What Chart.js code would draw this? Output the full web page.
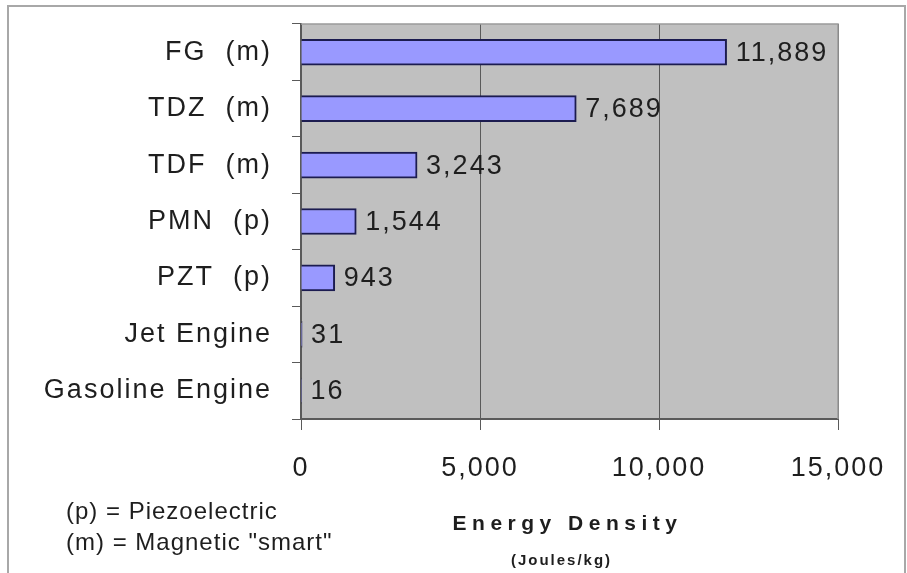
<!DOCTYPE html>
<html>
<head>
<meta charset="utf-8">
<script src="https://cdn.jsdelivr.net/npm/chart.js@4.4.1/dist/chart.umd.min.js"></script>
<style>
  body { margin: 0; background: #fff; }
  #chart { display: block; }
</style>
</head>
<body>
<canvas id="chart" width="907" height="573"></canvas>
<script>
var categories = ['FG  (m)', 'TDZ  (m)', 'TDF  (m)', 'PMN  (p)', 'PZT  (p)', 'Jet Engine', 'Gasoline Engine'];
var energyDensity = [11889, 7689, 3243, 1544, 943, 31, 16];
var xTicks = [0, 5000, 10000, 15000];
var notes = ['(p) = Piezoelectric', '(m) = Magnetic "smart"'];
var axisTitle = 'Energy Density';
var axisUnit = '(Joules/kg)';

var FONT = '"Liberation Sans", Arial, sans-serif';

function fmt(v) {
    return v.toLocaleString('en-US');
}

var decor = {
    id: 'decor',
    beforeDraw: function(chart) {
        var ctx = chart.ctx, a = chart.chartArea;
        ctx.save();
        ctx.fillStyle = '#ffffff';
        ctx.fillRect(0, 0, chart.width, chart.height);
        // outer frame
        ctx.strokeStyle = '#a8a8a8';
        ctx.lineWidth = 2;
        ctx.beginPath();
        ctx.moveTo(8, chart.height);
        ctx.lineTo(8, 6);
        ctx.lineTo(905, 6);
        ctx.lineTo(905, chart.height);
        ctx.stroke();
        // plot area
        ctx.fillStyle = '#c0c0c0';
        ctx.fillRect(a.left, a.top, a.right - a.left, a.bottom - a.top);
        ctx.restore();
        ctx.letterSpacing = '2px';
    },
    afterDatasetsDraw: function(chart) {
        var ctx = chart.ctx, a = chart.chartArea;
        ctx.save();
        ctx.strokeStyle = '#9a9a9a';
        ctx.lineWidth = 1.5;
        ctx.beginPath();
        ctx.moveTo(a.left, a.top);
        ctx.lineTo(a.right, a.top);
        ctx.lineTo(a.right, a.bottom);
        ctx.stroke();

        // value labels
        ctx.font = '27px ' + FONT;
        ctx.letterSpacing = '2px';
        ctx.fillStyle = '#1e1e1e';
        ctx.textAlign = 'left';
        ctx.textBaseline = 'middle';
        var meta = chart.getDatasetMeta(0);
        meta.data.forEach(function(bar, i) {
            ctx.fillText(fmt(energyDensity[i]), bar.x + 9, bar.y + 1);
        });

        // notes
        ctx.font = '24px ' + FONT;
        ctx.letterSpacing = '1px';
        ctx.fillText(notes[0], 66, 512);
        ctx.fillText(notes[1], 66, 543);

        // axis title
        var cx = (a.left + a.right) / 2;
        ctx.textAlign = 'center';
        ctx.font = 'bold 21px ' + FONT;
        ctx.letterSpacing = '5.5px';
        ctx.fillText(axisTitle, cx - 2, 524);
        ctx.font = 'bold 15px ' + FONT;
        ctx.letterSpacing = '2px';
        ctx.fillText(axisUnit, cx - 8, 561);
        ctx.restore();
    }
};

var chart = new Chart(document.getElementById('chart'), {
    type: 'bar',
    data: {
        labels: categories,
        datasets: [{
            data: energyDensity,
            backgroundColor: '#9999ff',
            borderColor: '#1c1c50',
            borderWidth: 2,
            borderSkipped: 'start',
            barThickness: 26
        }]
    },
    options: {
        indexAxis: 'y',
        responsive: false,
        animation: false,
        events: [],
        layout: { padding: { top: 24, right: 69, left: 0, bottom: 0 } },
        plugins: {
            legend: { display: false },
            tooltip: { enabled: false }
        },
        scales: {
            x: {
                min: xTicks[0],
                max: xTicks[xTicks.length - 1],
                afterBuildTicks: function(scale) {
                    scale.ticks = xTicks.map(function(v) { return { value: v }; });
                },
                afterFit: function(scale) { scale.height = 154; },
                grid: {
                    color: '#5a5a5a',
                    lineWidth: 1,
                    tickLength: 11,
                    tickColor: '#5a5a5a'
                },
                border: { display: true, color: '#5a5a5a', width: 2 },
                ticks: {
                    padding: 22,
                    color: '#1e1e1e',
                    font: { family: FONT, size: 27 },
                    callback: function(v) { return fmt(v); }
                }
            },
            y: {
                afterFit: function(scale) {
                    scale.width = 301;
                    scale.paddingTop = 0;
                    scale.paddingBottom = 0;
                },
                grid: {
                    offset: true,
                    drawOnChartArea: false,
                    tickLength: 9,
                    tickColor: '#5a5a5a'
                },
                border: { display: true, color: '#5a5a5a', width: 2 },
                ticks: {
                    padding: 20,
                    color: '#1e1e1e',
                    font: { family: FONT, size: 27 }
                }
            }
        }
    },
    plugins: [decor]
});
</script>
</body>
</html>
